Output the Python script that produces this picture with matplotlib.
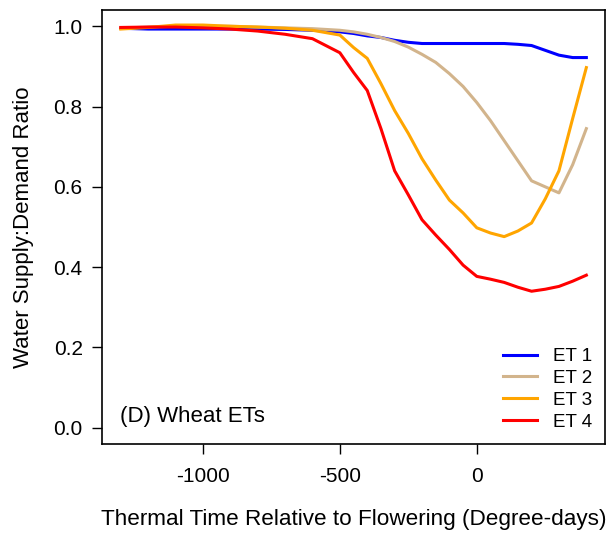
import matplotlib
matplotlib.use("Agg")
import matplotlib.pyplot as plt

plt.rcParams["font.family"] = ["Liberation Sans", "DejaVu Sans"]
plt.rcParams["axes.unicode_minus"] = False

# thermal time relative to flowering (degree-days)
tt = [-1300, -1200, -1100, -1000, -900, -800, -700, -600, -500, -450, -400,
      -350, -300, -250, -200, -150, -100, -50, 0, 50, 100, 150, 200, 250,
      300, 350, 400]

et1 = [0.995, 0.993, 0.993, 0.993, 0.993, 0.993, 0.992, 0.99, 0.986, 0.982, 0.976,
       0.972, 0.965, 0.96, 0.957, 0.957, 0.957, 0.957, 0.957, 0.957, 0.957, 0.955,
       0.952, 0.94, 0.928, 0.922, 0.922]
et2 = [0.995, 0.998, 1.0, 1.0, 1.0, 0.998, 0.996, 0.994, 0.99, 0.986, 0.98,
       0.972, 0.962, 0.948, 0.93, 0.91, 0.882, 0.85, 0.81, 0.765, 0.715, 0.665,
       0.615, 0.6, 0.585, 0.655, 0.745]
et3 = [0.993, 0.997, 1.003, 1.003, 1.0, 0.998, 0.995, 0.99, 0.978, 0.947, 0.92,
       0.857, 0.79, 0.733, 0.67, 0.617, 0.567, 0.535, 0.498, 0.485, 0.476, 0.49,
       0.51, 0.57, 0.64, 0.77, 0.897]
et4 = [0.997, 0.998, 0.998, 0.996, 0.993, 0.988, 0.98, 0.969, 0.934, 0.885, 0.84,
       0.745, 0.64, 0.58, 0.518, 0.48, 0.444, 0.405, 0.377, 0.37, 0.362, 0.35,
       0.34, 0.345, 0.352, 0.365, 0.38]

series = [("ET 1", et1, "#0000ff"), ("ET 2", et2, "#d2b48c"),
          ("ET 3", et3, "#ffa500"), ("ET 4", et4, "#ff0000")]

fs = 15

fig = plt.figure(figsize=(6.08, 5.36), dpi=100)
ax = fig.add_axes([0.168, 0.172, 0.827, 0.809])

for name, vals, col in series:
    ax.plot(tt, vals, color=col, lw=2.2, label=name)

ax.set_xlim(-1368, 468)
ax.set_ylim(-0.04, 1.04)
ax.set_xticks([-1000, -500, 0])
ax.set_yticks([0.0, 0.2, 0.4, 0.6, 0.8, 1.0])
ax.set_yticklabels(["0.0", "0.2", "0.4", "0.6", "0.8", "1.0"])
ax.tick_params(direction="out", length=7, width=1, labelsize=fs, pad=7, colors="black")
ax.tick_params(axis="x", pad=10)
for s in ax.spines.values():
    s.set_linewidth(1.2)

ax.set_xlabel("Thermal Time Relative to Flowering (Degree-days)", fontsize=16.2, labelpad=16)
ax.set_ylabel("Water Supply:Demand Ratio", fontsize=16, labelpad=14)

ax.text(0.035, 0.062, "(D) Wheat ETs", transform=ax.transAxes, fontsize=16,
        ha="left", va="center")

ax.legend(loc="lower right", frameon=False, fontsize=13.5, handlelength=1.8,
          handletextpad=0.85, labelspacing=0.25, borderaxespad=0.3)

fig.savefig("out.png", dpi=100)
